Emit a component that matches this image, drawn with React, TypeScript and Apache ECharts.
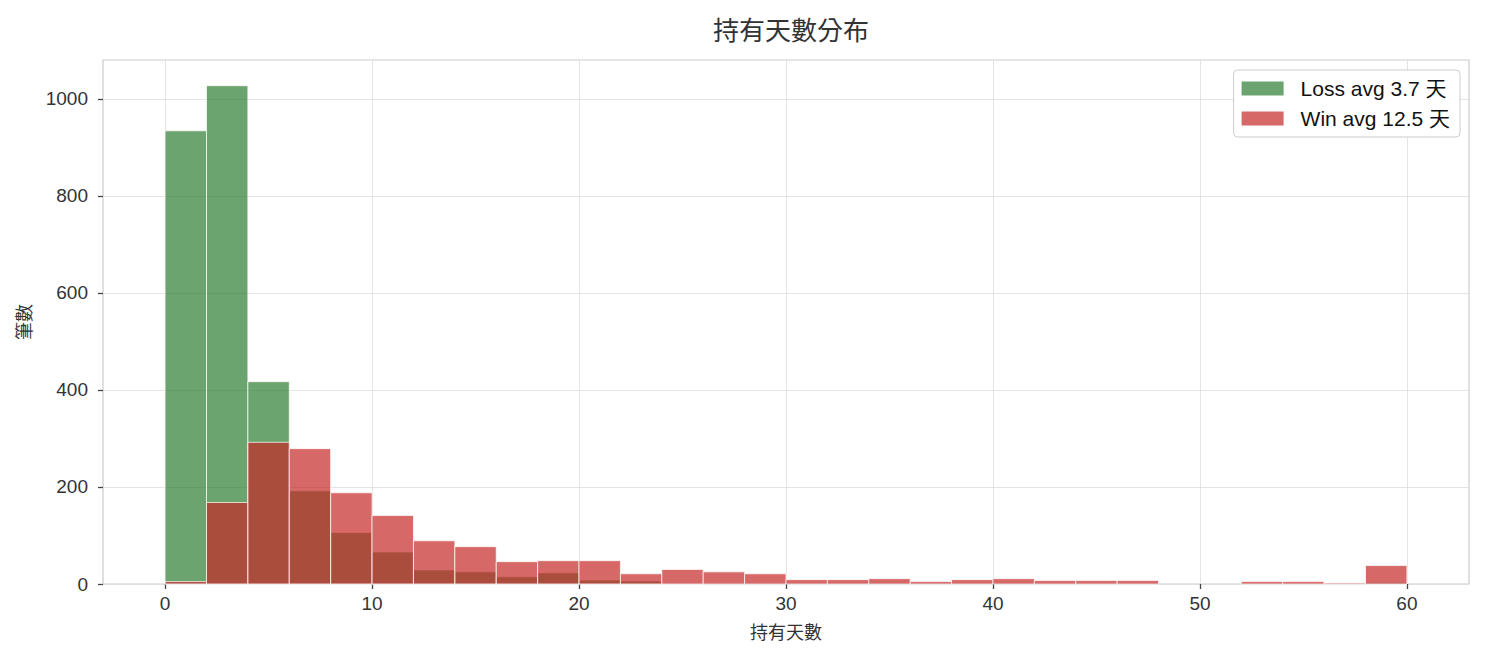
import React, { useEffect, useRef } from "react";
import * as echarts from "echarts";

const binEdges = [0, 2, 4, 6, 8, 10, 12, 14, 16, 18, 20, 22, 24, 26, 28, 30, 32, 34, 36, 38, 40, 42, 44, 46, 48, 50, 52, 54, 56, 58, 60];
const lossCounts = [934, 1027, 417, 192, 106, 66, 29, 25, 15, 23, 8, 6, 1, 0, 0, 0, 0, 0, 0, 0, 0, 0, 0, 0, 0, 0, 0, 0, 0, 3];
const winCounts = [5, 168, 292, 279, 188, 141, 89, 77, 46, 48, 48, 21, 30, 25, 21, 9, 9, 11, 5, 9, 11, 7, 7, 7, 0, 0, 5, 5, 2, 38];
const xTicks = [0, 10, 20, 30, 40, 50, 60];
const yTicks = [0, 200, 400, 600, 800, 1000];
const lossName = "Loss avg 3.7 天";
const winName = "Win avg 12.5 天";

const FONT = '"Liberation Sans", "Noto Sans CJK TC", sans-serif';
const CJK = '"Noto Sans CJK TC", sans-serif';

function toBins(counts: number[]) {
  return counts.map((c, i) => [binEdges[i], binEdges[i + 1], c]);
}

function renderBar(fill: string) {
  return (params: any, api: any) => {
    const x0 = api.value(0);
    const x1 = api.value(1);
    const v = api.value(2);
    if (!v) return null;
    const p0 = api.coord([x0, v]);
    const p1 = api.coord([x1, 0]);
    return {
      type: "rect",
      shape: { x: p0[0], y: p0[1], width: p1[0] - p0[0], height: p1[1] - p0[1] },
      style: { fill, stroke: "rgba(255,255,255,0.9)", lineWidth: 0.8 },
    };
  };
}

export default function App() {
  const ref = useRef<HTMLDivElement>(null);
  useEffect(() => {
    if (!ref.current) return;
    const chart = echarts.init(ref.current, undefined, { renderer: "svg" });
    const green = "rgba(46,125,50,0.7)";
    const red = "rgba(198,40,40,0.7)";
    chart.setOption({
      animation: false,
      backgroundColor: "#ffffff",
      textStyle: { fontFamily: FONT },
      title: {
        text: "持有天數分布",
        left: 786,
        textAlign: "center",
        top: 10,
        textStyle: { fontFamily: CJK, fontSize: 26, fontWeight: "normal", color: "#333" },
      },
      grid: { left: 103, right: 16, top: 60, bottom: 76, show: true, borderColor: "#cccccc", borderWidth: 1.2 },
      legend: {
        orient: "vertical",
        right: 25,
        top: 70,
        padding: [8, 10, 8, 8],
        itemWidth: 42,
        itemHeight: 14,
        itemGap: 9,
        backgroundColor: "#ffffff",
        borderColor: "#cccccc",
        borderWidth: 1,
        borderRadius: 4,
        icon: "rect",
        textStyle: { fontFamily: FONT, fontSize: 21, color: "#111", padding: [0, 0, 0, 12] },
        data: [
          { name: lossName, itemStyle: { color: green } },
          { name: winName, itemStyle: { color: red } },
        ],
      },
      xAxis: {
        type: "value",
        min: -3,
        max: 63,
        name: "持有天數",
        nameLocation: "middle",
        nameGap: 38,
        nameTextStyle: { fontFamily: CJK, fontSize: 18, color: "#333" },
        axisLine: { show: false, onZero: false },
        axisTick: { show: true, length: 5, customValues: xTicks, lineStyle: { color: "#444", width: 1.3 } },
        axisLabel: { customValues: xTicks, fontFamily: FONT, fontSize: 19, color: "#333", margin: 10 },
        splitLine: { show: true, lineStyle: { color: "#dddddd", width: 0.8 } },
      },
      yAxis: {
        type: "value",
        min: 0,
        max: 1080,
        name: "筆數",
        nameLocation: "middle",
        nameGap: 71,
        nameRotate: 90,
        nameTextStyle: { fontFamily: CJK, fontSize: 18, color: "#333" },
        axisLine: { show: false, onZero: false },
        axisTick: { show: true, length: 5, customValues: yTicks, lineStyle: { color: "#444", width: 1.3 } },
        axisLabel: {
          customValues: yTicks,
          fontFamily: FONT,
          fontSize: 19,
          color: "#333",
          margin: 15,
          formatter: (v: number) => String(v),
        },
        splitLine: { show: true, lineStyle: { color: "#dddddd", width: 0.8 } },
      },
      series: [
        {
          type: "custom",
          name: lossName,
          itemStyle: { color: green },
          renderItem: renderBar(green),
          encode: { x: [0, 1], y: 2 },
          data: toBins(lossCounts),
          z: 2,
        },
        {
          type: "custom",
          name: winName,
          itemStyle: { color: red },
          renderItem: renderBar(red),
          encode: { x: [0, 1], y: 2 },
          data: toBins(winCounts),
          z: 3,
        },
      ],
    });
    return () => chart.dispose();
  }, []);
  return (
    <div
      ref={ref}
      style={{ position: "fixed", left: 0, top: 0, width: 1485, height: 660, background: "#fff" }}
    />
  );
}
